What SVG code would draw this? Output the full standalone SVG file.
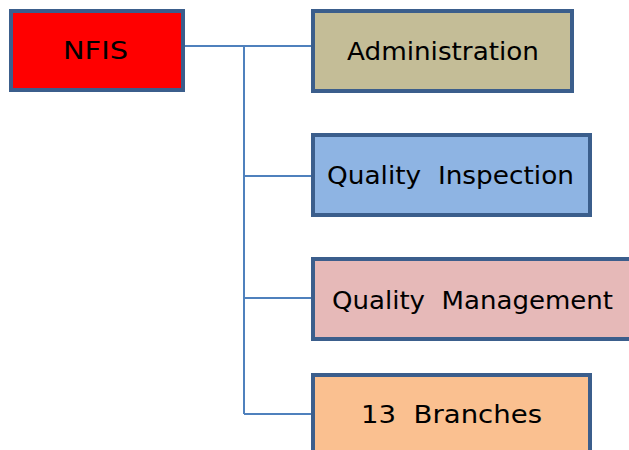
<svg xmlns="http://www.w3.org/2000/svg" width="629" height="450" viewBox="0 0 629 450">
  <style>
    .box { stroke: #3b5e8c; stroke-width: 4; }
    .lbl { font-family: "DejaVu Sans", "Liberation Sans", sans-serif; font-size: 25px; fill: #000; white-space: pre; }
    .conn { stroke: #4f81bd; stroke-width: 2; fill: none; }
  </style>
  <rect width="629" height="450" fill="#fff"/>

  <g id="connectors">
    <path class="conn" d="M185 46 H311 M244 46 V414 M244 176 H311 M244 298 H311 M244 414 H311"/>
  </g>

  <g id="nfis">
    <rect class="box" x="11" y="11" width="172" height="79" fill="#ff0000"/>
    <text class="lbl" x="63" y="59" textLength="65" lengthAdjust="spacingAndGlyphs">NFIS</text>
  </g>

  <g id="administration">
    <rect class="box" x="313" y="11" width="259" height="80" fill="#c4bd97"/>
    <text class="lbl" x="347" y="60" textLength="192" lengthAdjust="spacingAndGlyphs">Administration</text>
  </g>

  <g id="quality-inspection">
    <rect class="box" x="313" y="135" width="277" height="80" fill="#8eb4e3"/>
    <text class="lbl" x="327" y="184" textLength="247" lengthAdjust="spacingAndGlyphs" xml:space="preserve">Quality  Inspection</text>
  </g>

  <g id="quality-management">
    <rect class="box" x="313" y="259" width="330" height="80" fill="#e6b9b8"/>
    <text class="lbl" x="332" y="309" textLength="281" lengthAdjust="spacingAndGlyphs" xml:space="preserve">Quality  Management</text>
  </g>

  <g id="branches">
    <rect class="box" x="313" y="375" width="277" height="100" fill="#fac090"/>
    <text class="lbl" x="361" y="423" textLength="181" lengthAdjust="spacingAndGlyphs" xml:space="preserve">13  Branches</text>
  </g>
</svg>
